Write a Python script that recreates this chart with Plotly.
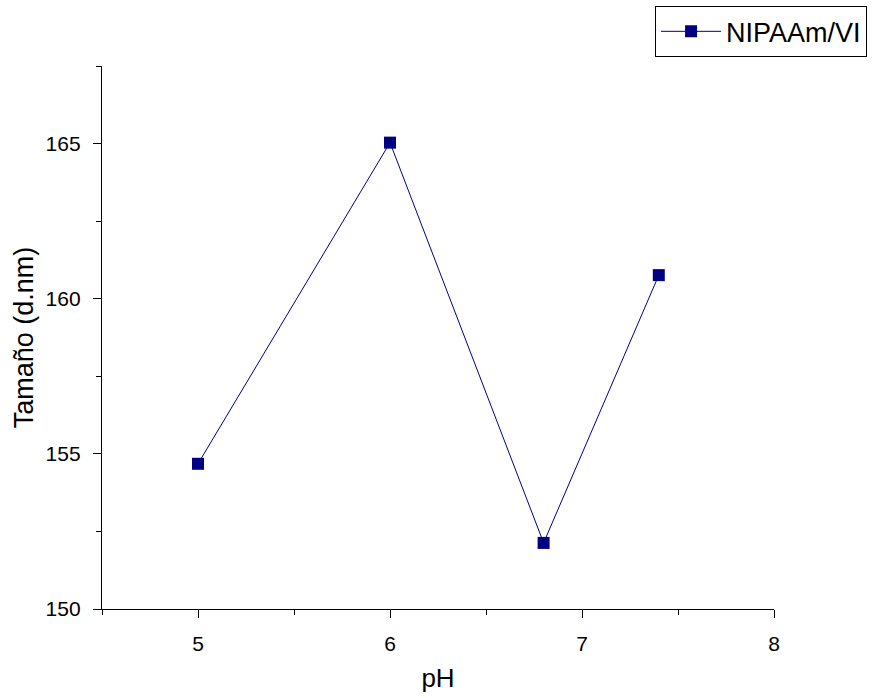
import plotly.graph_objects as go

# pH values and measured particle size
ph = [5.0, 6.0, 6.8, 7.4]
size_dnm = [154.68, 165.03, 152.13, 160.76]
series_name = "NIPAAm/VI"

navy = "#000080"

fig = go.Figure()
fig.add_trace(go.Scatter(
    x=ph, y=size_dnm, name=series_name,
    mode="lines+markers",
    line=dict(color=navy, width=1),
    marker=dict(symbol="square", size=12, color=navy),
))

axis_common = dict(
    showline=True, linecolor="black", linewidth=1.3,
    ticks="outside", ticklen=8, tickwidth=1.3, tickcolor="black",
    showgrid=False, zeroline=False, mirror=False,
    ticklabelstandoff=8,
    tickfont=dict(family="Liberation Sans, Arial", size=21, color="black"),
)

fig.update_layout(
    width=878, height=698,
    margin=dict(l=102, r=104, t=66, b=89, autoexpand=False),
    plot_bgcolor="white", paper_bgcolor="white",
    font=dict(family="Liberation Sans, Arial", color="black"),
    xaxis=dict(
        range=[4.5, 8], dtick=1, tick0=5,
        title=dict(text="pH", font=dict(size=26), standoff=14),
        minor=dict(ticks="outside", ticklen=5, dtick=0.5, tick0=4.5,
                   tickcolor="black", tickwidth=1.3),
        **axis_common,
    ),
    yaxis=dict(
        range=[150, 167.5], dtick=5, tick0=150,
        title=dict(text="Tamaño (d.nm)", font=dict(size=27), standoff=4),
        minor=dict(ticks="outside", ticklen=5, dtick=2.5, tick0=150,
                   tickcolor="black", tickwidth=1.3),
        **axis_common,
    ),
    showlegend=True,
    legend=dict(
        x=0.823, xanchor="left", y=1.11, yanchor="top",
        xref="paper", yref="paper",
        bordercolor="black", borderwidth=1, bgcolor="white",
        font=dict(size=27, color="black"),
        itemwidth=60,
    ),
)

fig.write_html("out.html")
